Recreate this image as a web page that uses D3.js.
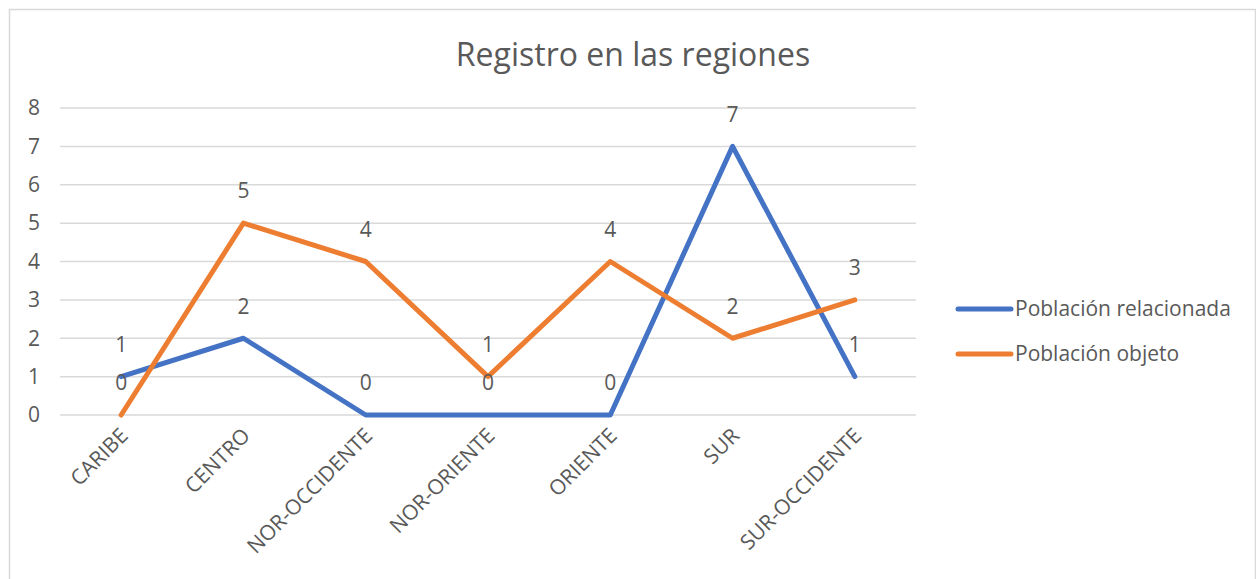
<!DOCTYPE html>
<html>
<head>
<meta charset="utf-8">
<script src="https://cdn.jsdelivr.net/npm/d3@7"></script>
<style>
  body { margin: 0; background: #fff; }
  text { font-family: "Open Sans", "Noto Sans", sans-serif; fill: #595959; }
</style>
</head>
<body>
<div id="chart"></div>
<script>
// datos
var regiones = ["CARIBE", "CENTRO", "NOR-OCCIDENTE", "NOR-ORIENTE", "ORIENTE", "SUR", "SUR-OCCIDENTE"];
var relacionada = [1, 2, 0, 0, 0, 7, 1];
var objeto = [0, 5, 4, 1, 4, 2, 3];
var yTicks = [0, 1, 2, 3, 4, 5, 6, 7, 8];
var seriesNames = ["Población relacionada", "Población objeto"];
var colors = ["#4472C4", "#ED7D31"];

var width = 1256, height = 579;
var svg = d3.select("#chart").append("svg")
    .attr("width", width)
    .attr("height", height);

// marco
svg.append("rect")
    .attr("x", 9.5).attr("y", 9.5)
    .attr("width", 1246).attr("height", 600)
    .attr("fill", "none")
    .attr("stroke", "#d9d9d9")
    .attr("stroke-width", 1.5);

svg.append("text")
    .attr("x", 633).attr("y", 66)
    .attr("text-anchor", "middle")
    .style("font-size", "32px")
    .text("Registro en las regiones");

var x = d3.scaleBand().domain(regiones).range([60, 916]);
var y = d3.scaleLinear().domain([0, 8]).range([415, 108]);

// líneas de cuadrícula
svg.append("g").selectAll("line")
    .data(yTicks)
    .enter().append("line")
    .attr("x1", 60).attr("x2", 916)
    .attr("y1", function (d) { return y(d); })
    .attr("y2", function (d) { return y(d); })
    .attr("stroke", "#d9d9d9")
    .attr("stroke-width", 1.5);

svg.append("g").selectAll("text")
    .data(yTicks)
    .enter().append("text")
    .attr("x", 40)
    .attr("y", function (d) { return y(d); })
    .attr("dy", "0.35em")
    .attr("text-anchor", "end")
    .style("font-size", "21px")
    .text(function (d) { return d; });

// etiquetas del eje x
svg.append("g").selectAll("text")
    .data(regiones)
    .enter().append("text")
    .attr("transform", function (d) {
        return "translate(" + (x(d) + x.bandwidth() / 2 + 8) + ",437) rotate(-45)";
    })
    .attr("text-anchor", "end")
    .style("font-size", "21px")
    .text(function (d) { return d; });

var cx = function (d, i) { return x(regiones[i]) + x.bandwidth() / 2; };
var line = d3.line()
    .x(function (d, i) { return cx(d, i); })
    .y(function (d) { return y(d); });

[relacionada, objeto].forEach(function (serie, k) {
    svg.append("path")
        .datum(serie)
        .attr("d", line)
        .attr("fill", "none")
        .attr("stroke", colors[k])
        .attr("stroke-width", 5)
        .attr("stroke-linejoin", "round")
        .attr("stroke-linecap", "round");
});

// etiquetas de datos
[relacionada, objeto].forEach(function (serie) {
    svg.append("g").selectAll("text")
        .data(serie)
        .enter().append("text")
        .attr("x", function (d, i) { return cx(d, i); })
        .attr("y", function (d) { return y(d) - 32; })
        .attr("dy", "0.35em")
        .attr("text-anchor", "middle")
        .style("font-size", "21px")
        .text(function (d) { return d; });
});

// leyenda
var legend = svg.append("g");
seriesNames.forEach(function (name, k) {
    var ly = 309 + k * 45;
    legend.append("line")
        .attr("x1", 958).attr("x2", 1011)
        .attr("y1", ly).attr("y2", ly)
        .attr("stroke", colors[k])
        .attr("stroke-width", 5)
        .attr("stroke-linecap", "round");
    legend.append("text")
        .attr("x", 1015).attr("y", ly)
        .attr("dy", "0.35em")
        .style("font-size", "21px")
        .text(name);
});
</script>
</body>
</html>
